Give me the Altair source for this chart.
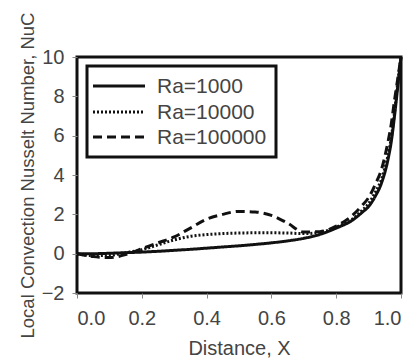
import altair as alt
import pandas as pd

xs = [0, 0.05, 0.1, 0.15, 0.2, 0.25, 0.3, 0.35, 0.4, 0.45, 0.5, 0.55, 0.6, 0.65,
      0.7, 0.75, 0.8, 0.85, 0.88, 0.9, 0.92, 0.94, 0.96, 0.97, 0.98, 0.99, 1.0]
ra1000 = [0, 0.0, 0.02, 0.05, 0.08, 0.12, 0.17, 0.22, 0.28, 0.34, 0.4, 0.47, 0.55, 0.65,
          0.78, 0.98, 1.3, 1.7, 2.1, 2.4, 2.9, 3.6, 4.8, 5.7, 7.0, 8.5, 10.0]
ra10000 = [0, -0.1, -0.08, 0.05, 0.2, 0.45, 0.7, 0.88, 0.97, 1.02, 1.05, 1.06, 1.06, 1.05,
           1.02, 1.08, 1.35, 1.75, 2.2, 2.55, 3.1, 3.8, 5.0, 5.9, 7.2, 8.7, 10.0]
ra100000 = [0, -0.15, -0.2, -0.05, 0.25, 0.55, 0.85, 1.3, 1.75, 2.0, 2.15, 2.12, 1.95, 1.55,
            1.1, 1.12, 1.4, 1.95, 2.45, 2.85, 3.5, 4.3, 5.7, 6.6, 7.8, 8.9, 10.0]
series = ["Ra=1000", "Ra=10000", "Ra=100000"]
dashes = [[1, 0], [2, 2], [9, 5]]

rows = []
for name, ys in zip(series, [ra1000, ra10000, ra100000]):
    for x, y in zip(xs, ys):
        rows.append({"X": x, "Nu": y, "Series": name})
df = pd.DataFrame(rows)

font = "Liberation Sans"
ink = "#111"

lines = alt.Chart(df).mark_line(interpolate="monotone", color=ink, strokeWidth=3).encode(
    x=alt.X("X:Q", scale=alt.Scale(domain=[0, 1]),
            axis=alt.Axis(title="Distance, X", values=[0, 0.2, 0.4, 0.6, 0.8, 1.0], format=".1f",
                          grid=False, domain=False, tickSize=5, tickColor="#888",
                          labelPadding=10, titlePadding=10)),
    y=alt.Y("Nu:Q", scale=alt.Scale(domain=[-2, 10]),
            axis=alt.Axis(title="Local Convection Nusselt Number, NuC",
                          values=[-2, 0, 2, 4, 6, 8, 10], grid=False, domain=False,
                          tickSize=5, tickColor="#888", labelPadding=8, titlePadding=4)),
    strokeDash=alt.StrokeDash("Series:N", sort=series,
                              scale=alt.Scale(domain=series, range=dashes), legend=None),
    detail="Series:N",
)

# hand-made legend box (layout only)
box = alt.Chart(pd.DataFrame({"a": [0]})).mark_rect(
    fill="white", stroke=ink, strokeWidth=3
).encode(x=alt.value(10), x2=alt.value(199), y=alt.value(9), y2=alt.value(100))

legend_layers = [box]
row_y = [29, 55, 80]
for name, dash, yy in zip(series, dashes, row_y):
    one = pd.DataFrame({"Series": [name]})
    legend_layers.append(
        alt.Chart(one).mark_rule(color=ink, strokeWidth=3, strokeDash=dash).encode(
            x=alt.value(16), x2=alt.value(68), y=alt.value(yy))
    )
    legend_layers.append(
        alt.Chart(one).mark_text(font=font, fontSize=21, color="#444", align="left",
                                 baseline="middle").encode(
            x=alt.value(80), y=alt.value(yy + 1), text="Series:N")
    )

chart = alt.layer(lines, *legend_layers).properties(
    width=324, height=236,
    padding={"left": 77, "top": 57, "right": 16, "bottom": 67},
    autosize=alt.AutoSizeParams(type="none"),
).configure_view(
    stroke=ink, strokeWidth=3
).configure_axis(
    labelFont=font, titleFont=font, labelFontSize=20, labelColor="#444",
    titleColor="#444", titleFontWeight="normal"
).configure_axisX(
    titleFontSize=20
).configure_axisY(
    titleFontSize=18.5
)

chart.save("out.html", embed_options={"renderer": "svg", "actions": False})
